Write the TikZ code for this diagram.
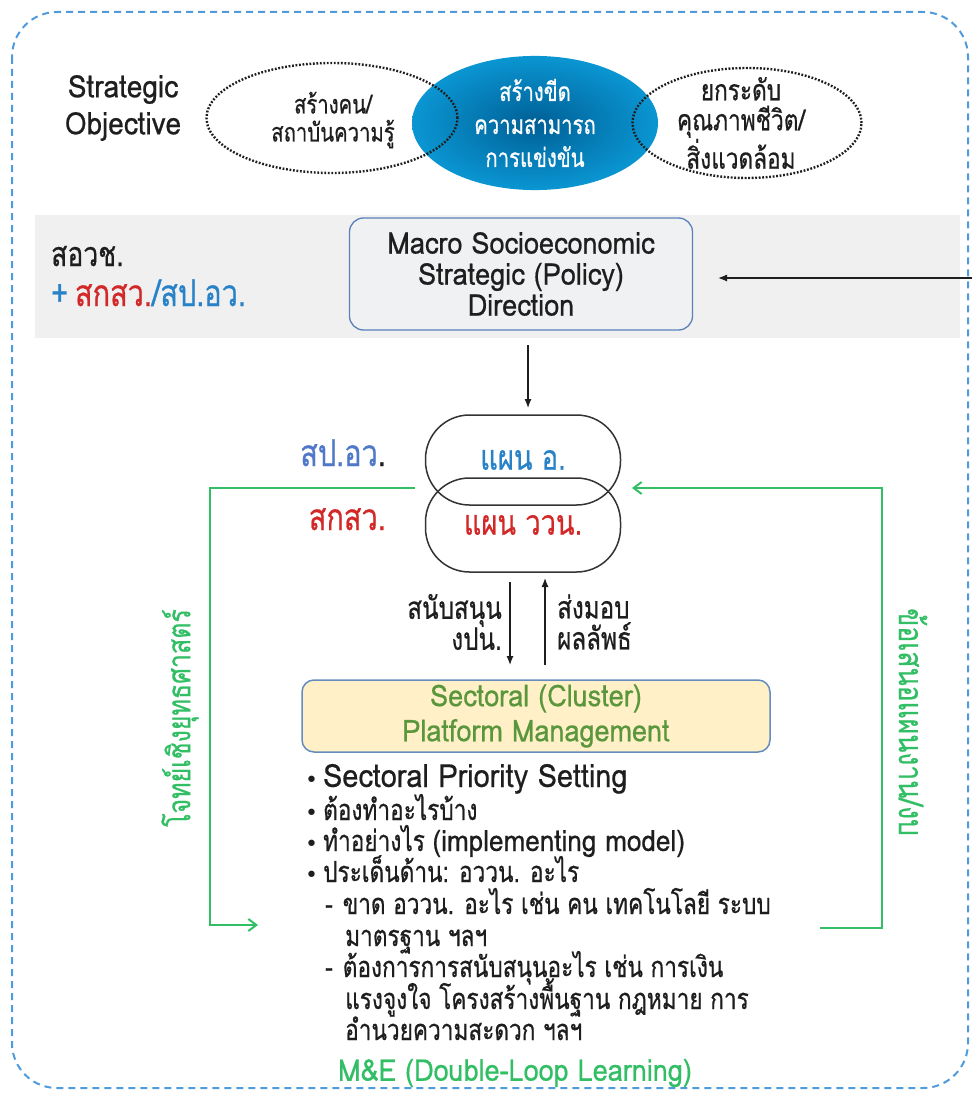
\documentclass[tikz,border=0pt]{standalone}
\usepackage{fontspec}
\usetikzlibrary{arrows.meta,shapes.geometric}
\setmainfont[Script=Thai,FakeStretch=0.78,FakeBold=0.6]{Loma}
\newfontfamily\lat[FakeStretch=0.9,FakeBold=0.6]{Loma}
\newfontfamily\sym{DejaVu Sans}
\definecolor{dashblue}{RGB}{80,155,220}
\definecolor{lgreen}{RGB}{50,190,100}
\definecolor{tred}{RGB}{210,40,40}
\definecolor{tblue}{RGB}{40,130,200}
\definecolor{band}{RGB}{240,240,240}
\definecolor{macroborder}{RGB}{90,130,185}
\definecolor{macrofill}{RGB}{240,241,243}
\definecolor{secfill}{RGB}{255,240,200}
\definecolor{secborder}{RGB}{100,140,190}
\definecolor{sectext}{RGB}{90,150,60}
\definecolor{txt}{RGB}{30,30,30}
\definecolor{ellin}{RGB}{0,95,150}
\definecolor{ellout}{RGB}{10,150,210}
\definecolor{spblue}{RGB}{80,120,200}
\tikzset{
  dotell/.style={ellipse, draw=txt, line width=2.4pt, dash pattern=on 1.8pt off 1.7pt, align=center, text=txt},
  pill/.style={rectangle, draw=black!80, line width=1.5pt, rounded corners=44pt, minimum width=195pt},
  blk/.style={-{Latex[length=9pt,width=7pt]}, line width=1.2pt, draw=txt},
  grn/.style={-{Straight Barb[length=8pt,width=12pt]}, line width=2pt, draw=lgreen},
  lst/.style={anchor=base west, inner sep=0pt, text=txt, font=\fontsize{29}{31}\selectfont},
}
\newcommand{\bul}{{\sym\fontsize{22}{20}\selectfont •}\hspace{5pt}}
\begin{document}
\begin{tikzpicture}[x=1pt,y=-1pt]
\useasboundingbox (0,0) rectangle (972,1097);
% outer frame
\draw[dashblue, line width=2pt, dash pattern=on 7pt off 5pt, rounded corners=45pt] (12,12) rectangle (968,1088);
% strategic objective
\node[align=center, text=txt, font=\lat\fontsize{31}{37}\selectfont] (so) at (123,108) {Strategic\\Objective};
\node[ellipse, minimum width=246pt, minimum height=122pt, inner color=ellin, outer color=ellout, text=white, align=center, font=\fontsize{26}{33}\selectfont] (mid) at (535,123) {สร้างขีด\\ความสามารถ\\การแข่งขัน};
\node[dotell, minimum width=251pt, minimum height=110pt] (left) at (332,118) {};
\node[text=txt, align=center, font=\fontsize{26}{28}\selectfont] (lefttxt) at (333,120) {สร้างคน/\\สถาบันความรู้};
\node[dotell, minimum width=229pt, minimum height=110pt] (right) at (747,123) {};
\node[text=txt, align=center, font=\fontsize{29}{30}\selectfont] (righttxt) at (741,123) {ยกระดับ\\คุณภาพชีวิต/\\สิ่งแวดล้อม};
% gray band
\fill[band] (35,215) rectangle (960,338);
\node[rectangle, rounded corners=14pt, draw=macroborder, fill=macrofill, line width=1.3pt, minimum width=343pt, minimum height=112pt, align=center, text=txt, font=\lat\fontsize{30}{31}\selectfont] (macro) at (521,274) {Macro Socioeconomic\\Strategic (Policy)\\Direction};
\node[anchor=base west, text=txt, inner sep=0pt, font=\fontsize{34}{30}\selectfont] (sovc) at (51,266) {สอวช.};
\node[anchor=base west, inner sep=0pt, font=\fontsize{37}{30}\selectfont] (plus) at (51,306) {\textcolor{tblue}{+\hspace{7pt}}\textcolor{tred}{สกสว.}\textcolor{tblue}{/สป.อว.}};
\coordinate (rin) at (972,278);
\coordinate (rend) at (718,278);
\draw[blk] (rin) -- (rend);
% pills
\node[pill, minimum height=90pt, text=tblue, font=\fontsize{35}{30}\selectfont] (p1) at (523,460) {แผน อ.};
\node[pill, minimum height=94pt, text=tred, font=\fontsize{35}{30}\selectfont] (p2) at (523,525) {แผน ววน.};
\coordinate (mtop) at (528,345);
\coordinate (mbot) at (528,408);
\draw[blk] (mtop) -- (mbot);
\node[anchor=base east, inner sep=0pt, text=spblue, font=\fontsize{37}{30}\selectfont] (spov) at (386,466) {สป.อว\textcolor{txt}{.}};
\node[anchor=base east, inner sep=0pt, text=tred, font=\fontsize{37}{30}\selectfont] (skv) at (386,530) {สกสว.};
% sectoral
\node[rectangle, rounded corners=12pt, draw=secborder, fill=secfill, line width=1.5pt, minimum width=468pt, minimum height=72pt, align=center, text=sectext, font=\lat\fontsize{30}{35}\selectfont] (sec) at (536,716) {Sectoral (Cluster)\\Platform Management};
\coordinate (dtop) at (510,582);
\coordinate (dbot) at (510,665);
\coordinate (utop) at (545,578);
\coordinate (ubot) at (545,665);
\draw[blk] (dtop) -- (dbot);
\draw[blk] (ubot) -- (utop);
\node[anchor=east, align=right, text=txt, inner sep=0pt, font=\fontsize{31}{31}\selectfont] (supp) at (502,622) {สนับสนุน\\งปน.};
\node[anchor=west, align=left, text=txt, inner sep=0pt, font=\fontsize{31}{31}\selectfont] (deliv) at (557,622) {ส่งมอบ\\ผลลัพธ์};
% green loops
\coordinate (gl1) at (415,488);
\coordinate (gl2) at (258,925);
\draw[grn] (gl1) -- (210,488) |- (gl2);
\coordinate (gr1) at (820,928);
\coordinate (gr2) at (632,488);
\draw[grn] (gr1) -- (882,928) |- (gr2);
\node[rotate=90, text=lgreen, font=\fontsize{32}{30}\selectfont] (lrot) at (180,718) {โจทย์เชิงยุทธศาสตร์};
\node[rotate=-90, text=lgreen, font=\fontsize{34}{30}\selectfont] (rrot) at (913,722) {ข้อเสนอแผนงาน/งบ};
% list
\node[lst, font=\lat\fontsize{32}{31}\selectfont] (l1) at (305,787) {\bul Sectoral Priority Setting};
\node[lst] (l2) at (305,820) {\bul ต้องทำอะไรบ้าง};
\node[lst] (l3) at (305,851) {\bul ทำอย่างไร {\lat\fontsize{29}{31}\selectfont(implementing model)}};
\node[lst] (l4) at (305,882) {\bul ประเด็นด้าน: อววน. อะไร};
\node[lst] (l5) at (325,914) {-\hspace{10pt}ขาด อววน. อะไร เช่น คน เทคโนโลยี ระบบ};
\node[lst] (l6) at (345,946) {มาตรฐาน ฯลฯ};
\node[lst] (l7) at (325,977) {-\hspace{10pt}ต้องการการสนับสนุนอะไร เช่น การเงิน};
\node[lst] (l8) at (345,1009) {แรงจูงใจ โครงสร้างพื้นฐาน กฎหมาย การ};
\node[lst] (l9) at (345,1040) {อำนวยความสะดวก ฯลฯ};
\node[text=lgreen, font=\lat\fontsize{30}{30}\selectfont] (me) at (515,1073) {M\&E (Double-Loop Learning)};
\end{tikzpicture}
\end{document}
